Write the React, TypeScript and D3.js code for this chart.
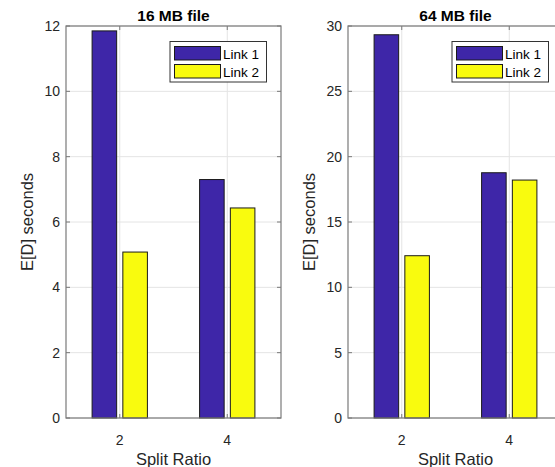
import React from "react";
import * as d3 from "d3";

const categories = [2, 4];
const seriesNames = ["Link 1", "Link 2"];
const colors = ["#3e26a8", "#f9fb0e"];

const link1_16 = [11.85, 7.3];
const link2_16 = [5.08, 6.43];
const link1_64 = [29.33, 18.77];
const link2_64 = [12.42, 18.21];

const yTicks16 = [0, 2, 4, 6, 8, 10, 12];
const yTicks64 = [0, 5, 10, 15, 20, 25, 30];

const FONT = "'Liberation Sans', Arial, Helvetica, sans-serif";

type PanelProps = {
  left: number;
  right: number;
  top: number;
  bottom: number;
  title: string;
  yMax: number;
  yTicks: number[];
  s1: number[];
  s2: number[];
  yLabelX: number;
};

function Panel({ left, right, top, bottom, title, yMax, yTicks, s1, s2, yLabelX }: PanelProps) {
  const x = d3.scaleLinear().domain([1, 5]).range([left, right]);
  const y = d3.scaleLinear().domain([0, yMax]).range([bottom, top]);
  const barW = 0.457;
  const offs = [-0.286, 0.286];
  const series = [s1, s2];
  const tickLen = 4;
  const axisColor = "#7a7a7a";
  const gridColor = "#e4e4e4";
  const lgX = right - 111;
  const lgY = top + 15.5;
  return (
    <g>
      <rect x={left} y={top} width={right - left} height={bottom - top} fill="#fff" />
      {yTicks.map((t) => (
        <line key={"gy" + t} x1={left} x2={right} y1={y(t)} y2={y(t)} stroke={gridColor} strokeWidth={1} />
      ))}
      {categories.map((c) => (
        <line key={"gx" + c} x1={x(c)} x2={x(c)} y1={top} y2={bottom} stroke={gridColor} strokeWidth={1} />
      ))}
      {series.map((s, si) =>
        categories.map((c, ci) => {
          const x0 = x(c + offs[si] - barW / 2);
          const x1 = x(c + offs[si] + barW / 2);
          return (
            <rect
              key={si + "-" + ci}
              x={x0}
              y={y(s[ci])}
              width={x1 - x0}
              height={y(0) - y(s[ci])}
              fill={colors[si]}
              stroke="#1a1a1a"
              strokeWidth={1}
            />
          );
        })
      )}
      {/* box */}
      <rect x={left} y={top} width={right - left} height={bottom - top} fill="none" stroke={axisColor} strokeWidth={1.2} />
      {yTicks.map((t) => (
        <g key={"ty" + t}>
          <line x1={left} x2={left + tickLen} y1={y(t)} y2={y(t)} stroke={axisColor} />
          <line x1={right} x2={right - tickLen} y1={y(t)} y2={y(t)} stroke={axisColor} />
          <text x={left - 6} y={y(t) + 5} textAnchor="end" fontSize={14} fill="#262626" fontFamily={FONT}>
            {t}
          </text>
        </g>
      ))}
      {categories.map((c) => (
        <g key={"tx" + c}>
          <line x1={x(c)} x2={x(c)} y1={bottom} y2={bottom - tickLen} stroke={axisColor} />
          <line x1={x(c)} x2={x(c)} y1={top} y2={top + tickLen} stroke={axisColor} />
          <text x={x(c)} y={bottom + 27} textAnchor="middle" fontSize={14} fill="#262626" fontFamily={FONT}>
            {c}
          </text>
        </g>
      ))}
      <text x={(left + right) / 2} y={21} textAnchor="middle" fontSize={15.5} fontWeight="bold" fill="#000" fontFamily={FONT}>
        {title}
      </text>
      <text x={(left + right) / 2} y={465} textAnchor="middle" fontSize={16.5} fill="#262626" fontFamily={FONT}>
        Split Ratio
      </text>
      <text
        transform={`translate(${yLabelX},${(top + bottom) / 2}) rotate(-90)`}
        textAnchor="middle"
        fontSize={16.5}
        fill="#262626"
        fontFamily={FONT}
      >
        E[D] seconds
      </text>
      {/* legend */}
      <rect x={lgX} y={lgY} width={96.5} height={40.5} fill="#fff" stroke="#333" strokeWidth={1} />
      {seriesNames.map((n, i) => (
        <g key={n}>
          <rect x={lgX + 4.5} y={lgY + 5 + i * 18} width={46} height={13.5} fill={colors[i]} stroke="#1a1a1a" strokeWidth={1} />
          <text x={lgX + 53} y={lgY + 17.5 + i * 18} fontSize={13.5} fill="#000" fontFamily={FONT}>
            {n}
          </text>
        </g>
      ))}
    </g>
  );
}

export default function App() {
  return (
    <svg
      width={555}
      height={467}
      style={{ position: "absolute", left: 0, top: 0, background: "#fff" }}
    >
      <rect width={555} height={467} fill="#fff" />
      <Panel left={66} right={281} top={26} bottom={418} title="16 MB file" yMax={12} yTicks={yTicks16} s1={link1_16} s2={link2_16} yLabelX={33} />
      <Panel left={348} right={563} top={26} bottom={418} title="64 MB file" yMax={30} yTicks={yTicks64} s1={link1_64} s2={link2_64} yLabelX={315} />
    </svg>
  );
}
